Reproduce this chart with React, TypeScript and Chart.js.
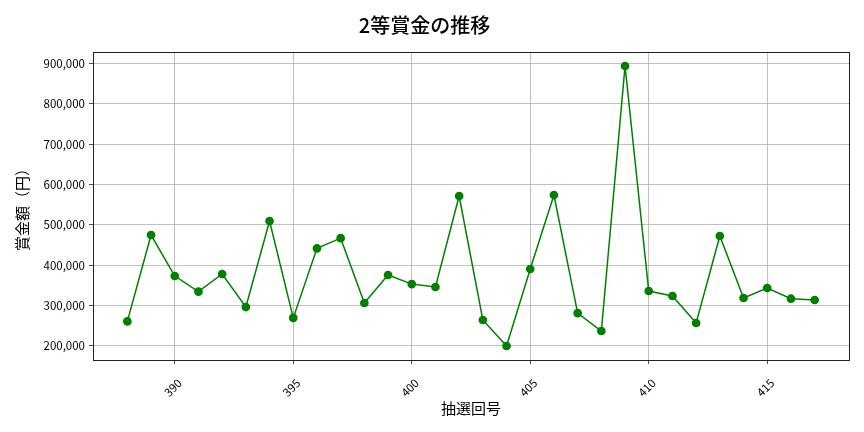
import React, { useEffect, useRef } from "react";
import { Chart, registerables } from "chart.js";

Chart.register(...registerables);

const rounds: number[] = [
  388, 389, 390, 391, 392, 393, 394, 395, 396, 397, 398, 399, 400, 401, 402,
  403, 404, 405, 406, 407, 408, 409, 410, 411, 412, 413, 414, 415, 416, 417,
];
const prizes: number[] = [
  260400, 474800, 373000, 334100, 378000, 296000, 509500, 269000, 441600,
  467000, 306000, 375500, 353000, 345700, 571600, 263800, 199300, 390400,
  574000, 281000, 236500, 894300, 335800, 323400, 256400, 472300, 318500,
  343300, 316700, 313500,
];
const xTicks: number[] = [390, 395, 400, 405, 410, 415];
const yTicks: number[] = [200000, 300000, 400000, 500000, 600000, 700000, 800000, 900000];

const titleText = "2等賞金の推移";
const xTitle = "抽選回号";
const yTitle = "賞金額（円）";

const FONT = "'Noto Sans CJK JP', 'Noto Sans', sans-serif";

const frame = {
  id: "frame",
  afterDatasetsDraw(chart: any) {
    const { ctx, chartArea } = chart;
    ctx.save();
    ctx.strokeStyle = "#222";
    ctx.lineWidth = 1;
    ctx.strokeRect(
      Math.round(chartArea.left) + 0.5,
      Math.round(chartArea.top) + 0.5,
      Math.round(chartArea.right - chartArea.left),
      Math.round(chartArea.bottom - chartArea.top)
    );
    ctx.restore();
  },
};

export default function App() {
  const ref = useRef<HTMLCanvasElement | null>(null);
  useEffect(() => {
    if (!ref.current) return;
    const xMin = rounds[0] - (rounds[rounds.length - 1] - rounds[0]) * 0.05;
    const xMax = rounds[rounds.length - 1] + (rounds[rounds.length - 1] - rounds[0]) * 0.05;
    const pMin = Math.min(...prizes);
    const pMax = Math.max(...prizes);
    const yMin = pMin - (pMax - pMin) * 0.05;
    const yMax = pMax + (pMax - pMin) * 0.05;
    const chart = new Chart(ref.current, {
      type: "line",
      data: {
        datasets: [
          {
            data: rounds.map((r, i) => ({ x: r, y: prizes[i] })),
            borderColor: "#008000",
            backgroundColor: "#008000",
            borderWidth: 1.5,
            pointRadius: 3.6,
            pointHoverRadius: 3.6,
            pointBackgroundColor: "#008000",
            pointBorderColor: "#008000",
            tension: 0,
            fill: false,
          },
        ],
      },
      options: {
        animation: false,
        responsive: false,
        maintainAspectRatio: false,
        layout: { padding: { left: 0, right: 15, top: 0, bottom: 0 } },
        plugins: {
          legend: { display: false },
          tooltip: { enabled: false },
          title: {
            display: true,
            text: titleText,
            color: "#000",
            font: { family: FONT, size: 20, weight: "500" },
            padding: { top: 13, bottom: 15 },
          },
        },
        scales: {
          x: {
            type: "linear",
            min: xMin,
            max: xMax,
            afterBuildTicks: (scale: any) => {
              scale.ticks = xTicks.map((v) => ({ value: v }));
            },
            afterFit: (scale: any) => {
              scale.height = 72;
            },
            ticks: {
              minRotation: 45,
              maxRotation: 45,
              color: "#000",
              font: { family: FONT, size: 11.5 },
              labelOffset: 5,
              padding: 12,
              callback: (v: any) => String(v),
            },
            grid: {
              color: "#b0b0b0",
              lineWidth: 0.8,
              tickColor: "#222",
              tickLength: 4,
            },
            border: { display: false },
            title: {
              display: true,
              text: xTitle,
              color: "#000",
              font: { family: FONT, size: 15 },
              padding: { top: 0, bottom: 15 },
            },
          },
          y: {
            type: "linear",
            min: yMin,
            max: yMax,
            afterBuildTicks: (scale: any) => {
              scale.ticks = yTicks.map((v) => ({ value: v }));
            },
            afterFit: (scale: any) => {
              scale.width = 93;
            },
            ticks: {
              color: "#000",
              font: { family: FONT, size: 11.5 },
              padding: 4,
              callback: (v: any) => Number(v).toLocaleString("en-US"),
            },
            grid: {
              color: "#b0b0b0",
              lineWidth: 0.8,
              tickColor: "#222",
              tickLength: 4,
            },
            border: { display: false },
            title: {
              display: true,
              text: yTitle,
              color: "#000",
              font: { family: FONT, size: 15 },
              padding: { top: 13, bottom: 0 },
            },
          },
        },
      },
      plugins: [frame],
    });
    return () => chart.destroy();
  }, []);
  return (
    <div style={{ position: "fixed", left: 0, top: 0, width: 864, height: 432, background: "#fff" }}>
      <canvas ref={ref} width={864} height={432} style={{ width: 864, height: 432, display: "block" }} />
    </div>
  );
}
